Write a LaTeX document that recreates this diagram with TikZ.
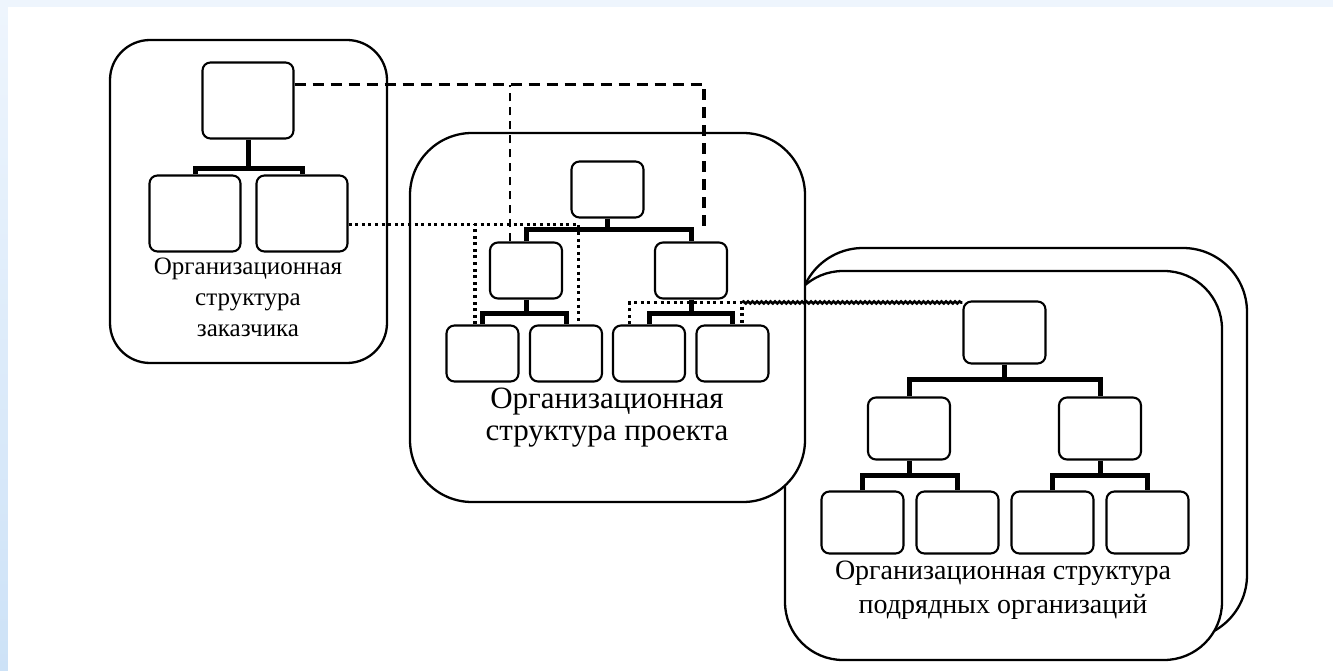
\documentclass[tikz,border=0pt]{standalone}
\usepackage{fontspec}
\setmainfont{Liberation Serif}
\usetikzlibrary{calc,decorations.pathmorphing}

\begin{document}
\begin{tikzpicture}[x=1pt, y=-1pt,
    frame/.style={draw, line width=2.3pt, fill=white},
    unit/.style n args={2}{draw, line width=2.1pt, rounded corners=8pt, fill=white,
        inner sep=0pt, minimum width=#1pt, minimum height=#2pt},
    cunit/.style={unit={91}{76}},
    punit/.style={unit={72}{56}},
    sunit/.style={unit={82}{62}},
    branch/.style={line width=5pt},
    heavydash/.style={line width=3.2pt, dash pattern=on 11pt off 7pt},
    lightdash/.style={line width=1.8pt, dash pattern=on 8pt off 6pt},
    dotline/.style={line width=3.4pt, dash pattern=on 3pt off 3.6pt},
    wavy/.style={line width=2.6pt, decorate, decoration={snake, segment length=4.5pt, amplitude=1pt}},
    caption/.style={align=center, inner sep=0pt}]
    % Slide colours
    \definecolor{slideblue}{RGB}{205,226,247}
    \definecolor{slidelight}{RGB}{238,245,253}

    \useasboundingbox (0,0) rectangle (1333,671);

    % Slide background with the blue border
    \fill[slidelight] (0,0) rectangle (1333,7);
    \shade[top color=slidelight, bottom color=slideblue] (0,7) rectangle (8,671);
    \fill[white] (8,7) rectangle (1333,671);

    % Contractors: two stacked frames
    \draw[frame, rounded corners=64pt] (799,248) rectangle (1247,639);
    \draw[frame, rounded corners=58pt] (785,271) rectangle (1222,660);

    % Contractors tree
    \node[sunit] (s0) at (1004.5,332.5) {};
    \node[sunit] (s1) at (909,428.5) {};
    \node[sunit] (s2) at (1100,428.5) {};
    \node[sunit] (s3) at (862.5,522.5) {};
    \node[sunit] (s4) at (957.5,522.5) {};
    \node[sunit] (s5) at (1052.5,522.5) {};
    \node[sunit] (s6) at (1147.5,522.5) {};
    \draw[branch] (s0.south) -- ++(0,15) coordinate (sb0);
    \draw[branch] (s1.north) |- (sb0) -| (s2.north);
    \draw[branch] (s1.south) -- ++(0,15) coordinate (sb1);
    \draw[branch] (s3.north) |- (sb1) -| (s4.north);
    \draw[branch] (s2.south) -- ++(0,15) coordinate (sb2);
    \draw[branch] (s5.north) |- (sb2) -| (s6.north);
    \node[caption, font=\fontsize{28}{34}\selectfont] (scap) at (1003,590)
        {Организационная структура\\подрядных организаций};

    % Project frame and tree
    \draw[frame, rounded corners=62pt] (410,133) rectangle (805,502);
    \node[punit] (p0) at (607.5,189.5) {};
    \node[punit] (p1) at (526,270.5) {};
    \node[punit] (p2) at (691,270.5) {};
    \node[punit] (p3) at (482.5,353.5) {};
    \node[punit] (p4) at (566,353.5) {};
    \node[punit] (p5) at (649,353.5) {};
    \node[punit] (p6) at (732.5,353.5) {};
    \draw[branch] (p0.south) -- ++(0,11) coordinate (pb0);
    \draw[branch] (p1.north) |- (pb0) -| (p2.north);
    \draw[branch] (p1.south) -- ++(0,14) coordinate (pb1);
    \draw[branch] (p3.north) |- (pb1) -| (p4.north);
    \draw[branch] (p2.south) -- ++(0,14) coordinate (pb2);
    \draw[branch] (p5.north) |- (pb2) -| (p6.north);
    \node[caption, font=\fontsize{31}{32}\selectfont] (pcap) at (607,418)
        {Организационная\\структура проекта};

    % Customer frame and tree
    \draw[frame, rounded corners=40pt] (110,40) rectangle (387,363);
    \node[cunit] (c0) at (248,100.5) {};
    \node[cunit] (c1) at (195,213.5) {};
    \node[cunit] (c2) at (302,213.5) {};
    \draw[branch] (c0.south) -- ++(0,29) coordinate (cb0);
    \draw[branch] (c1.north) |- (cb0) -| (c2.north);
    \node[caption, font=\fontsize{25}{31}\selectfont] (ccap) at (248,297)
        {Организационная\\структура\\заказчика};

    % Dashed links from the customer head
    \coordinate (dashA) at ($(c0.north east)!0.3!(c0.south east)$);
    \coordinate (dashEnd) at ($(pb0 -| p2)+(13,2)$);
    \draw[heavydash] (dashA) -| (dashEnd);
    \coordinate (dashB) at ($(p1.north west)!0.28!(p1.north east)$);
    \draw[lightdash] (dashB) -- (dashB |- dashA);

    % Dotted links around the left project branch
    \coordinate (dotA) at ($(c2.east)+(0,11)$);
    \draw[dotline] (dotA) -| ($(p4.north west)!0.67!(p4.north east)$);
    \coordinate (dotL) at ($(p3.north west)!0.4!(p3.north east)$);
    \draw[dotline] (dotL) -- (dotL |- dotA);

    % Dotted bracket over the right project branch and wavy link to contractors
    \coordinate (p5top) at ($(p5.north west)!0.24!(p5.north east)$);
    \coordinate (p6top) at ($(p6.north west)!0.63!(p6.north east)$);
    \coordinate (dotR) at ($(p6top)+(0,-22)$);
    \draw[dotline] (p5top) |- (dotR) -- (p6top);
    \draw[wavy] (dotR) -- (s0.north west |- dotR);
\end{tikzpicture}
\end{document}
